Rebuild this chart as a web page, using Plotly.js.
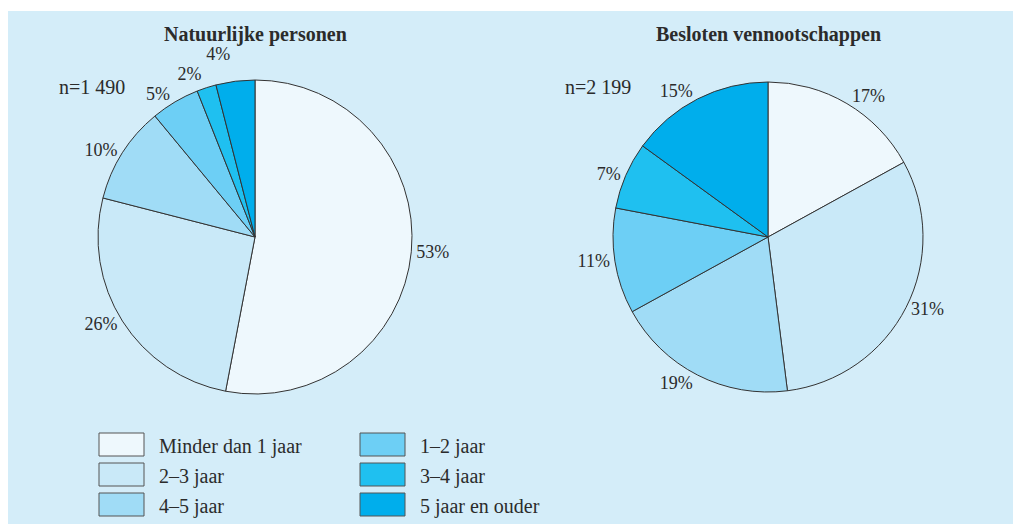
<!DOCTYPE html>
<html><head><meta charset="utf-8">
<script src="https://cdn.plot.ly/plotly-3.0.1.min.js"></script>
<style>html,body{margin:0;padding:0;background:#fff}#chart{width:1013px;height:524px}.textline{display:none}</style>
</head><body><div id="chart"></div>
<script>
// Data
const categories = ["Minder dan 1 jaar", "2–3 jaar", "4–5 jaar", "1–2 jaar", "3–4 jaar", "5 jaar en ouder"];
const colors = ["#eef8fd", "#c9e9f8", "#a0dcf6", "#6dcff5", "#1fc0f0", "#00aeec"];
const natuurlijkeValues = [53, 26, 10, 5, 2, 4];
const bvValues = [17, 31, 19, 11, 7, 15];
const titles = ["Natuurlijke personen", "Besloten vennootschappen"];
const nLabels = ["n=1 490", "n=2 199"];

const W = 1013, H = 524;
const serif = "'Liberation Serif', 'Times New Roman', serif";
const textColor = "#2b2b2b";
const fs = 20;

function pie(values, cx, cy, r) {
  return {
    type: "pie",
    values: values,
    labels: categories,
    sort: false,
    direction: "clockwise",
    rotation: 0,
    marker: {colors: colors, line: {color: "#333333", width: 1}},
    texttemplate: "%{value}%",
    textposition: "outside",
    textfont: {family: serif, size: 18, color: textColor},
    showlegend: false,
    hoverinfo: "label+value",
    domain: {x: [(cx - r) / W, (cx + r) / W], y: [(H - cy - r) / H, (H - cy + r) / H]}
  };
}

const data = [pie(natuurlijkeValues, 255, 237, 157), pie(bvValues, 768, 237, 155)];

const shapes = [{type: "rect", xref: "paper", yref: "paper", x0: 8 / W, x1: 1, y0: 0, y1: (H - 11) / H,
  fillcolor: "#d4edf9", line: {width: 0}, layer: "below"}];
const annotations = [];
const base = {xref: "paper", yref: "paper", showarrow: false, yanchor: "middle",
  font: {family: serif, size: fs, color: textColor}};
annotations.push(Object.assign({}, base, {text: "<b>" + titles[0] + "</b>", x: 256 / W, y: (H - 34) / H, xanchor: "center"}));
annotations.push(Object.assign({}, base, {text: "<b>" + titles[1] + "</b>", x: 768 / W, y: (H - 34) / H, xanchor: "center"}));
annotations.push(Object.assign({}, base, {text: nLabels[0], x: 92 / W, y: (H - 87) / H, xanchor: "center"}));
annotations.push(Object.assign({}, base, {text: nLabels[1], x: 598 / W, y: (H - 87) / H, xanchor: "center"}));

// Legend (two columns of three)
categories.forEach((c, i) => {
  const col = Math.floor(i / 3), row = i % 3;
  const bx = col === 0 ? 99 : 360;
  const by = 433 + row * 30;
  shapes.push({type: "rect", xref: "paper", yref: "paper", x0: bx / W, x1: (bx + 45) / W,
    y0: (H - by - 23) / H, y1: (H - by) / H, fillcolor: colors[i], line: {color: "#555555", width: 1}});
  annotations.push(Object.assign({}, base, {text: c, x: (bx + 58) / W, y: (H - by - 13) / H, xanchor: "left"}));
});

const layout = {
  width: W, height: H,
  margin: {l: 0, r: 0, t: 0, b: 0},
  paper_bgcolor: "#ffffff",
  shapes: shapes,
  annotations: annotations
};
Plotly.newPlot("chart", data, layout, {displayModeBar: false, staticPlot: true});
</script></body></html>
